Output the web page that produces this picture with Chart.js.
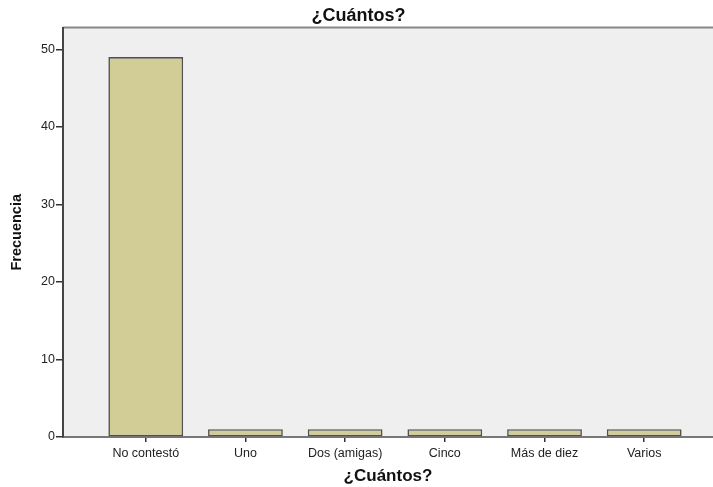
<!DOCTYPE html>
<html><head><meta charset="utf-8">
<script src="https://cdn.jsdelivr.net/npm/chart.js@4/dist/chart.umd.min.js"></script>
<style>html,body{margin:0;padding:0;background:#fff}canvas{display:block}</style>
</head><body>
<canvas id="c" width="713" height="487"></canvas>
<script>
const categories = ['No contestó','Uno','Dos (amigas)','Cinco','Más de diez','Varios'];
const counts = [49,1,1,1,1,1];
const yTickValues = [0,10,20,30,40,50];
const chartTitle = '¿Cuántos?';
const xTitle = '¿Cuántos?';
const yTitle = 'Frecuencia';

const plotBg = {
  id:'plotBg',
  beforeDraw(chart){
    const {ctx, chartArea:a} = chart;
    ctx.save();
    ctx.fillStyle = '#efefef';
    ctx.fillRect(a.left, a.top, a.right-a.left, a.bottom-a.top);
    ctx.strokeStyle = '#888';
    ctx.lineWidth = 2;
    ctx.beginPath(); ctx.moveTo(a.left, a.top); ctx.lineTo(a.right, a.top); ctx.stroke();
    ctx.restore();
  }
};

new Chart(document.getElementById('c'), {
  type:'bar',
  data:{
    datasets:[{
      data: counts.map((v,i)=>({x:i,y:v})),
      backgroundColor:'#d2cd97',
      borderColor:'#505050',
      borderWidth:1.6,
      borderSkipped:false,
      categoryPercentage:1,
      barPercentage:0.75
    }]
  },
  options:{
    responsive:false,
    animation:false,
    layout:{padding:{left:4,right:0,top:0,bottom:0}},
    plugins:{
      legend:{display:false},
      tooltip:{enabled:false},
      title:{display:true,text:chartTitle,color:'#111',
        font:{family:'Liberation Sans',size:18,weight:'bold'},
        padding:{top:5,bottom:1}}
    },
    scales:{
      x:{
        type:'linear', min:-0.83, max:5.69, offset:false,
        afterBuildTicks(s){ s.ticks = categories.map((c,i)=>({value:i})); },
        afterFit(s){ s.height = 50; },
        ticks:{callback:(v)=>categories[v]??'', color:'#222', autoSkip:false, maxRotation:0,
          font:{family:'Liberation Sans',size:12.5}, padding:4},
        grid:{display:true, offset:false, drawOnChartArea:false, drawTicks:true, tickLength:5, color:'#333', lineWidth:1.5},
        border:{display:true, color:'#777', width:2},
        title:{display:true,text:xTitle,color:'#111',font:{family:'Liberation Sans',size:17,weight:'bold'},padding:{top:0,bottom:0}}
      },
      y:{
        min:0, max:52.8,
        afterBuildTicks(s){ s.ticks = yTickValues.map(v=>({value:v})); },
        afterFit(s){ s.width = 59; },
        ticks:{color:'#222', font:{family:'Liberation Sans',size:12.5}, padding:1},
        grid:{display:true, drawOnChartArea:false, drawTicks:true, tickLength:7, color:'#333', lineWidth:1.5},
        border:{display:true, color:'#444', width:2},
        title:{display:true,text:yTitle,color:'#111',font:{family:'Liberation Sans',size:14.5,weight:'bold'},padding:{bottom:2}}
      }
    }
  },
  plugins:[plotBg]
});
</script>
</body></html>
